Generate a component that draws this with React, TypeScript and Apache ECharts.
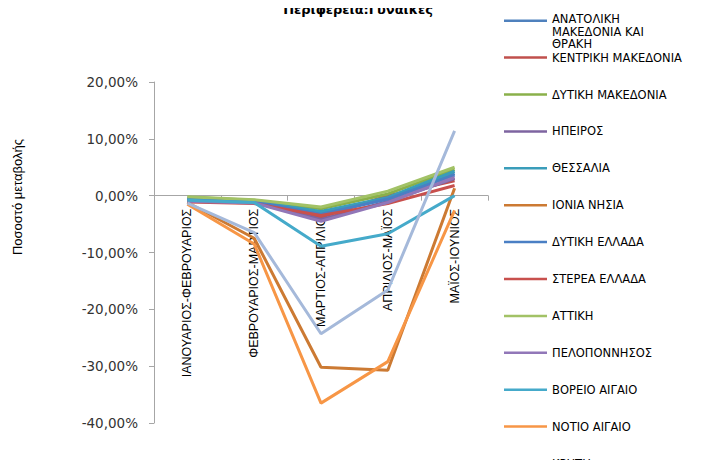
import React, { useEffect, useRef } from "react";
import * as echarts from "echarts";

const title = "Περιφέρεια:Γυναίκες";
const yAxisTitle = "Ποσοστό μεταβολής";
const categories = [
  "ΙΑΝΟΥΑΡΙΟΣ-ΦΕΒΡΟΥΑΡΙΟΣ",
  "ΦΕΒΡΟΥΑΡΙΟΣ-ΜΑΡΤΙΟΣ",
  "ΜΑΡΤΙΟΣ-ΑΠΡΙΛΙΟΣ",
  "ΑΠΡΙΛΙΟΣ-ΜΑΪΟΣ",
  "ΜΑΪΟΣ-ΙΟΥΝΙΟΣ",
];
const seriesNames = [
  "ΑΝΑΤΟΛΙΚΗ ΜΑΚΕΔΟΝΙΑ ΚΑΙ ΘΡΑΚΗ",
  "ΚΕΝΤΡΙΚΗ ΜΑΚΕΔΟΝΙΑ",
  "ΔΥΤΙΚΗ ΜΑΚΕΔΟΝΙΑ",
  "ΗΠΕΙΡΟΣ",
  "ΘΕΣΣΑΛΙΑ",
  "ΙΟΝΙΑ ΝΗΣΙΑ",
  "ΔΥΤΙΚΗ ΕΛΛΑΔΑ",
  "ΣΤΕΡΕΑ ΕΛΛΑΔΑ",
  "ΑΤΤΙΚΗ",
  "ΠΕΛΟΠΟΝΝΗΣΟΣ",
  "ΒΟΡΕΙΟ ΑΙΓΑΙΟ",
  "ΝΟΤΙΟ ΑΙΓΑΙΟ",
  "ΚΡΗΤΗ",
];
const legendLabels = [
  "ΑΝΑΤΟΛΙΚΗ\nΜΑΚΕΔΟΝΙΑ ΚΑΙ\nΘΡΑΚΗ",
  "ΚΕΝΤΡΙΚΗ ΜΑΚΕΔΟΝΙΑ",
  "ΔΥΤΙΚΗ ΜΑΚΕΔΟΝΙΑ",
  "ΗΠΕΙΡΟΣ",
  "ΘΕΣΣΑΛΙΑ",
  "ΙΟΝΙΑ ΝΗΣΙΑ",
  "ΔΥΤΙΚΗ ΕΛΛΑΔΑ",
  "ΣΤΕΡΕΑ ΕΛΛΑΔΑ",
  "ΑΤΤΙΚΗ",
  "ΠΕΛΟΠΟΝΝΗΣΟΣ",
  "ΒΟΡΕΙΟ ΑΙΓΑΙΟ",
  "ΝΟΤΙΟ ΑΙΓΑΙΟ",
  "ΚΡΗΤΗ",
];

// values in percent
const anatoliki = [-0.6, -0.9, -3.0, -0.5, 3.9];
const kentriki = [-1.0, -1.2, -3.8, 0.0, 2.6];
const dytikiMakedonia = [-0.3, -0.8, -2.3, 0.3, 4.6];
const ipeiros = [-0.9, -1.1, -4.2, -1.0, 3.0];
const thessalia = [-0.5, -1.0, -2.8, -0.3, 4.3];
const ioniaNisia = [-1.2, -7.5, -30.2, -30.7, 1.3];
const dytikiEllada = [-0.7, -1.0, -3.3, -0.6, 3.6];
const stereaEllada = [-1.1, -1.4, -3.5, -1.4, 1.8];
const attiki = [-0.2, -0.7, -2.0, 0.8, 5.0];
const peloponnisos = [-1.0, -1.3, -4.5, -1.2, 3.2];
const voreioAigaio = [-0.8, -1.2, -8.9, -6.7, 0.0];
const notioAigaio = [-1.5, -8.5, -36.5, -29.2, -2.6];
const kriti = [-1.3, -6.5, -24.3, -16.6, 11.4];

const seriesValues = [
  anatoliki, kentriki, dytikiMakedonia, ipeiros, thessalia, ioniaNisia,
  dytikiEllada, stereaEllada, attiki, peloponnisos, voreioAigaio, notioAigaio, kriti,
];
const colors = [
  "#4F81BD", "#C0504D", "#8AB04A", "#7E64A0", "#3A9DBA", "#CC7A33",
  "#4A7FC4", "#C8504D", "#A2C266", "#9177B8", "#45AACA", "#F79646", "#A5B9DA",
];

const yTicks = [-40, -30, -20, -10, 0, 10, 20];

export default function App() {
  const ref = useRef<HTMLDivElement>(null);
  useEffect(() => {
    if (!ref.current) return;
    const chart = echarts.init(ref.current, null, { renderer: "svg" });
    const gridTop = 82;
    const gridBottom = 45;
    const plotHeight = 468 - gridTop - gridBottom;
    const yMin = yTicks[0];
    const yMax = yTicks[yTicks.length - 1];
    const zeroFromBottom = (plotHeight * (0 - yMin)) / (yMax - yMin);

    const legendX = 504;
    const legendTop = 20.7;
    const legendStep = 36.9;
    const legendGraphics: any[] = [];
    seriesNames.forEach((_, i) => {
      const y = legendTop + i * legendStep;
      legendGraphics.push({
        type: "line",
        shape: { x1: legendX, y1: y, x2: legendX + 43, y2: y },
        style: { stroke: colors[i], lineWidth: 2.5 },
      });
      const multi = legendLabels[i].includes("\n");
      legendGraphics.push({
        type: "text",
        x: legendX + 48,
        y: multi ? y - 7.5 : y,
        style: {
          text: legendLabels[i],
          fill: "#000",
          font: "11.5px 'DejaVu Sans'",
          lineHeight: 12.5,
          textAlign: "left",
          textVerticalAlign: multi ? "top" : "middle",
        },
      });
    });
    chart.setOption({
      animation: false,
      backgroundColor: "#fff",
      color: colors,
      title: {
        text: title,
        left: 358,
        textAlign: "center",
        top: 2,
        padding: 0,
        textStyle: {
          fontFamily: "DejaVu Sans",
          fontSize: 13,
          fontWeight: "bold",
          color: "#000",
          lineHeight: 14,
        },
      },
      grid: {
        left: 154,
        right: 231,
        top: gridTop,
        bottom: gridBottom,
        containLabel: false,
        outerBoundsMode: "none",
      },
      xAxis: {
        type: "category",
        data: categories,
        boundaryGap: true,
        position: "bottom",
        offset: -zeroFromBottom,
        axisLine: { onZero: false, lineStyle: { color: "#A6A6A6", width: 1 } },
        axisTick: { show: true, length: 5, lineStyle: { color: "#A6A6A6" } },
        axisLabel: {
          rotate: 90,
          interval: 0,
          margin: 13,
          color: "#000",
          fontFamily: "Liberation Sans",
          fontSize: 12.5,
        },
        splitLine: { show: false },
      },
      yAxis: {
        type: "value",
        min: yMin,
        max: yMax,
        interval: 10,
        axisLine: { show: true, lineStyle: { color: "#A6A6A6", width: 1 } },
        axisTick: { show: true, length: 5, lineStyle: { color: "#A6A6A6" } },
        splitLine: { show: false },
        axisLabel: {
          margin: 16,
          color: "#333333",
          fontFamily: "DejaVu Sans",
          fontSize: 13.5,
          formatter: (v: number) => v.toFixed(2).replace(".", ",") + "%",
        },
      },
      series: seriesNames.map((name, i) => ({
        name,
        type: "line",
        data: seriesValues[i],
        symbol: "none",
        lineStyle: { width: 3, color: colors[i] },
        itemStyle: { color: colors[i] },
        z: 3,
      })),
      graphic: [
        {
          type: "text",
          x: 17,
          y: 197,
          rotation: Math.PI / 2,
          style: {
            text: yAxisTitle,
            fill: "#000",
            font: "13px 'Liberation Sans'",
            textAlign: "center",
            textVerticalAlign: "middle",
          },
        },
        ...legendGraphics,
      ],
    });
    return () => chart.dispose();
  }, []);
  return <div ref={ref} style={{ width: 719, height: 468, margin: -8 }} />;
}
